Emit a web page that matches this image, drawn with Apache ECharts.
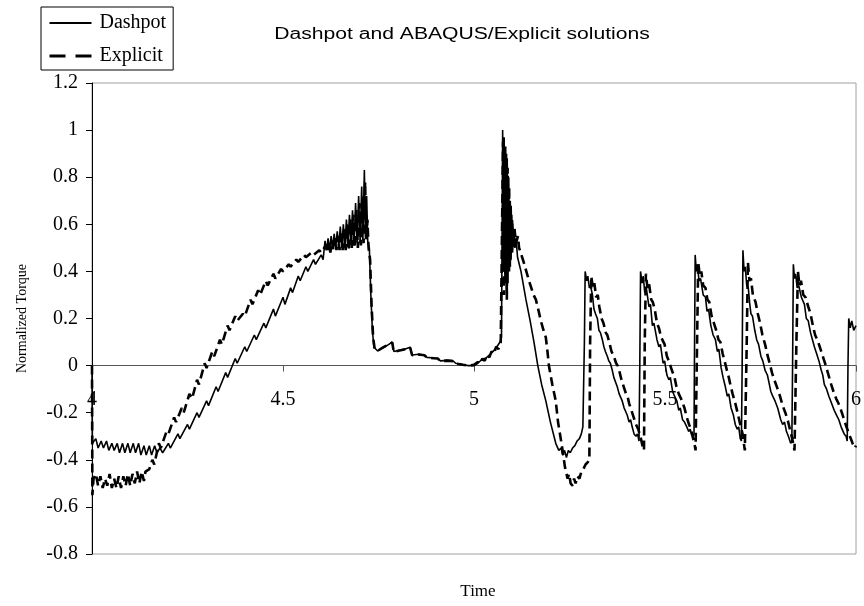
<!DOCTYPE html>
<html>
<head>
<meta charset="utf-8">
<script src="https://cdn.jsdelivr.net/npm/echarts@6/dist/echarts.min.js"></script>
<style>html,body{margin:0;padding:0;background:#fff}#c{width:864px;height:606px}</style>
</head>
<body>
<div id="c"></div>
<script>
// ---- data (time, normalized torque) ----
var seriesNames = ['Dashpot', 'Explicit'];
var xTicks = [4, 4.5, 5, 5.5, 6];
var yTicks = [-0.8, -0.6, -0.4, -0.2, 0, 0.2, 0.4, 0.6, 0.8, 1, 1.2];

var dashpotRamp = [
 [4.000,0.00],[4.001,-0.33],[4.002,-0.33],[4.010,-0.31],[4.016,-0.35],[4.024,-0.32],[4.030,-0.35],[4.038,-0.32],
 [4.044,-0.36],[4.052,-0.33],[4.058,-0.36],[4.066,-0.33],[4.072,-0.37],[4.080,-0.33],[4.086,-0.37],[4.094,-0.33],
 [4.100,-0.37],[4.108,-0.33],[4.114,-0.37],[4.122,-0.33],[4.128,-0.38],[4.136,-0.34],[4.142,-0.38],[4.150,-0.34],
 [4.156,-0.38],[4.164,-0.34],[4.170,-0.37],[4.178,-0.35],[4.185,-0.37],[4.200,-0.33],[4.205,-0.35],[4.225,-0.29],
 [4.230,-0.31],[4.250,-0.25],[4.255,-0.27],[4.275,-0.20],[4.280,-0.22],[4.300,-0.15],[4.305,-0.17],[4.325,-0.09],
 [4.330,-0.11],[4.350,-0.03],[4.355,-0.05],[4.375,0.03],[4.380,0.01],[4.400,0.08],[4.405,0.06],[4.425,0.13],
 [4.430,0.11],[4.450,0.18],[4.455,0.16],[4.475,0.24],[4.480,0.21],[4.500,0.29],[4.505,0.26],[4.520,0.33],
 [4.525,0.31],[4.540,0.38],[4.545,0.36],[4.560,0.42],[4.565,0.40],[4.580,0.45],[4.585,0.43],[4.600,0.47],[4.605,0.45]
];
var dashpotPeak = [
 [4.610,0.53],[4.614,0.49],[4.618,0.54],[4.622,0.49],[4.626,0.55],[4.630,0.50],[4.634,0.56],[4.638,0.50],
 [4.642,0.57],[4.646,0.50],[4.650,0.59],[4.654,0.50],[4.658,0.60],[4.662,0.50],[4.666,0.62],[4.670,0.51],
 [4.674,0.64],[4.678,0.51],[4.682,0.66],[4.686,0.51],[4.690,0.69],[4.694,0.52],[4.698,0.72],[4.702,0.52],
 [4.706,0.76],[4.709,0.53],[4.713,0.83],[4.716,0.54],[4.719,0.72],[4.722,0.52],[4.726,0.50],[4.730,0.30],
 [4.734,0.15],[4.738,0.078]
];
var dashpotRest = [
 [4.748,0.062],[4.760,0.075],[4.772,0.085],[4.786,0.10],[4.790,0.06],[4.805,0.065],[4.820,0.07],[4.833,0.078],
 [4.838,0.045],[4.855,0.048],[4.870,0.045],[4.877,0.035],[4.895,0.032],[4.905,0.03],[4.912,0.02],[4.930,0.022],
 [4.945,0.02],[4.952,0.01],[4.970,0.005],[4.985,0.0],[5.000,0.0],[5.010,0.01],[5.020,0.025],[5.030,0.03],
 [5.040,0.045],[5.050,0.06],[5.060,0.08],[5.068,0.10],[5.072,0.12]
];
var dashpotSpike = [
 [5.075,1.00],[5.077,0.40],[5.079,0.97],[5.081,0.35],[5.083,0.93],[5.085,0.30],[5.087,0.88],[5.089,0.35],
 [5.091,0.80],[5.093,0.40],[5.095,0.70],[5.097,0.45],[5.099,0.64],[5.101,0.48],[5.104,0.58],[5.107,0.50],
 [5.110,0.54],[5.114,0.46],[5.123,0.40],[5.136,0.28],[5.147,0.19],[5.157,0.10],[5.167,0.00],[5.177,-0.08],
 [5.188,-0.15],[5.200,-0.24],[5.214,-0.33],[5.222,-0.36],[5.228,-0.35],[5.232,-0.38],[5.237,-0.36],[5.242,-0.39],
 [5.247,-0.36],[5.252,-0.37],[5.258,-0.35],[5.264,-0.34],[5.270,-0.32],[5.276,-0.31],[5.281,-0.29],[5.285,-0.26]
];
var dashpotCycles = [
 [5.289,0.10],[5.291,0.40],[5.295,0.36],[5.298,0.38],[5.302,0.33],[5.305,0.34],[5.310,0.30],[5.314,0.24],
 [5.318,0.22],[5.323,0.20],[5.327,0.15],[5.331,0.14],[5.336,0.11],[5.340,0.08],[5.344,0.06],[5.349,0.04],
 [5.353,0.02],[5.357,0.01],[5.362,-0.02],[5.366,-0.05],[5.370,-0.05],[5.375,-0.09],[5.380,-0.12],[5.384,-0.12],
 [5.388,-0.15],[5.393,-0.18],[5.397,-0.18],[5.401,-0.21],[5.406,-0.24],[5.410,-0.23],[5.414,-0.26],[5.419,-0.29],
 [5.424,-0.30],[5.428,-0.29],[5.432,-0.32],
 [5.434,0.00],[5.436,0.40],[5.440,0.35],[5.443,0.38],[5.447,0.31],[5.451,0.33],[5.458,0.25],[5.462,0.26],
 [5.467,0.17],[5.471,0.18],[5.479,0.11],[5.484,0.08],[5.488,0.09],[5.495,0.01],[5.499,0.02],[5.505,-0.04],
 [5.510,-0.06],[5.514,-0.05],[5.520,-0.11],[5.525,-0.13],[5.531,-0.15],[5.536,-0.19],[5.540,-0.18],[5.546,-0.23],
 [5.551,-0.24],[5.557,-0.26],[5.562,-0.28],[5.566,-0.27],[5.569,-0.29],[5.574,-0.30],[5.576,-0.29],
 [5.577,0.00],[5.579,0.47],[5.582,0.40],[5.585,0.43],[5.589,0.36],[5.593,0.37],[5.600,0.30],[5.606,0.29],
 [5.610,0.23],[5.614,0.24],[5.620,0.17],[5.626,0.13],[5.632,0.11],[5.637,0.06],[5.641,0.07],[5.647,-0.01],
 [5.652,-0.05],[5.658,-0.09],[5.663,-0.13],[5.667,-0.12],[5.673,-0.18],[5.679,-0.21],[5.684,-0.25],[5.689,-0.27],
 [5.693,-0.26],[5.697,-0.31],[5.700,-0.32],
 [5.702,0.00],[5.704,0.49],[5.707,0.40],[5.710,0.42],[5.714,0.34],[5.718,0.33],[5.722,0.26],[5.725,0.22],
 [5.729,0.21],[5.735,0.15],[5.740,0.11],[5.745,0.09],[5.751,0.04],[5.756,0.02],[5.762,-0.02],[5.768,-0.04],
 [5.772,-0.07],[5.777,-0.11],[5.782,-0.13],[5.788,-0.15],[5.795,-0.18],[5.803,-0.23],[5.808,-0.25],[5.813,-0.24],
 [5.818,-0.28],[5.823,-0.30],[5.829,-0.33],[5.832,-0.32],
 [5.834,0.00],[5.836,0.43],[5.839,0.37],[5.842,0.39],[5.846,0.33],[5.850,0.34],[5.857,0.29],[5.865,0.26],
 [5.870,0.20],[5.875,0.19],[5.881,0.14],[5.886,0.11],[5.891,0.08],[5.897,0.05],[5.903,0.02],[5.909,-0.02],
 [5.913,-0.04],[5.917,-0.08],[5.923,-0.10],[5.929,-0.13],[5.936,-0.16],[5.943,-0.19],[5.949,-0.21],[5.955,-0.23],
 [5.961,-0.26],[5.969,-0.29],[5.974,-0.30],[5.977,-0.32],
 [5.979,0.00],[5.981,0.20],[5.985,0.16],[5.989,0.19],[5.994,0.15],[6.000,0.17]
];

var explicitRamp = [
 [4.000,0.00],[4.001,-0.55],[4.004,-0.48],[4.010,-0.46],[4.016,-0.51],[4.022,-0.47],[4.028,-0.52],[4.034,-0.48],
 [4.040,-0.51],[4.046,-0.46],[4.052,-0.52],[4.058,-0.48],[4.064,-0.52],[4.070,-0.47],[4.076,-0.52],[4.082,-0.47],
 [4.088,-0.51],[4.094,-0.46],[4.100,-0.51],[4.106,-0.46],[4.112,-0.50],[4.118,-0.45],[4.124,-0.50],[4.130,-0.45],
 [4.136,-0.49],[4.140,-0.45],[4.150,-0.44],[4.158,-0.40],[4.163,-0.42],[4.175,-0.33],[4.180,-0.35],[4.195,-0.28],
 [4.200,-0.29],[4.215,-0.22],[4.220,-0.24],[4.235,-0.18],[4.240,-0.20],[4.255,-0.12],[4.262,-0.14],[4.275,-0.06],
 [4.280,-0.08],[4.295,0.01],[4.300,-0.01],[4.315,0.06],[4.320,0.04],[4.335,0.11],[4.340,0.09],[4.355,0.17],
 [4.360,0.15],[4.375,0.21],[4.380,0.19],[4.395,0.22],[4.400,0.21],[4.415,0.28],[4.420,0.26],[4.435,0.32],
 [4.440,0.30],[4.455,0.36],[4.460,0.34],[4.475,0.39],[4.480,0.37],[4.495,0.41],[4.500,0.40],[4.515,0.43],
 [4.520,0.42],[4.535,0.45],[4.540,0.44],[4.555,0.47],[4.560,0.46],[4.575,0.48],[4.580,0.47],[4.595,0.49],[4.600,0.48]
];
var explicitPeak = [
 [4.612,0.51],[4.616,0.48],[4.620,0.52],[4.624,0.48],[4.628,0.53],[4.632,0.49],[4.636,0.54],[4.640,0.49],
 [4.644,0.55],[4.648,0.49],[4.652,0.57],[4.656,0.49],[4.660,0.58],[4.664,0.49],[4.668,0.60],[4.672,0.49],
 [4.676,0.62],[4.680,0.50],[4.684,0.64],[4.688,0.50],[4.692,0.66],[4.696,0.50],[4.700,0.69],[4.704,0.51],
 [4.708,0.72],[4.711,0.52],[4.715,0.78],[4.718,0.53],[4.721,0.62],[4.724,0.50],[4.728,0.45],[4.732,0.25],
 [4.736,0.12],[4.740,0.07]
];
var explicitRest = [
 [4.748,0.063],[4.760,0.075],[4.772,0.086],[4.786,0.098],[4.790,0.058],[4.805,0.064],[4.820,0.07],[4.833,0.076],
 [4.838,0.044],[4.855,0.047],[4.870,0.044],[4.877,0.034],[4.895,0.031],[4.905,0.03],[4.912,0.019],[4.930,0.021],
 [4.945,0.019],[4.952,0.009],[4.970,0.004],[4.985,0.0],[5.000,0.003],[5.010,0.015],[5.016,0.008],[5.022,0.03],
 [5.028,0.02],[5.034,0.045],[5.040,0.035],[5.046,0.06],[5.052,0.05],[5.058,0.08],[5.064,0.07],[5.070,0.10],[5.073,0.10]
];
var explicitSpike = [
 [5.076,0.95],[5.078,0.30],[5.080,0.92],[5.082,0.35],[5.084,0.90],[5.086,0.28],[5.088,0.84],[5.090,0.40],
 [5.092,0.76],[5.094,0.42],[5.096,0.68],[5.098,0.48],[5.100,0.62],[5.103,0.50],[5.106,0.58],[5.110,0.52],
 [5.115,0.55],[5.118,0.50],[5.124,0.47],[5.130,0.44],[5.137,0.40],[5.144,0.36],[5.150,0.33],[5.156,0.30],
 [5.162,0.28],[5.168,0.24],[5.175,0.19],[5.182,0.15],[5.188,0.12],[5.193,0.05],[5.196,0.00],[5.205,-0.08],
 [5.214,-0.15],[5.220,-0.24],[5.226,-0.30],[5.232,-0.36],[5.238,-0.43],[5.245,-0.48],[5.249,-0.46],[5.253,-0.50],
 [5.258,-0.51],[5.262,-0.48],[5.266,-0.50],[5.271,-0.47],[5.276,-0.48],[5.281,-0.45],[5.286,-0.44],[5.292,-0.42],
 [5.298,-0.41],[5.302,-0.40]
];
var explicitCycles = [
 [5.304,0.10],[5.307,0.38],[5.311,0.33],[5.315,0.35],[5.320,0.29],[5.324,0.30],[5.328,0.25],[5.334,0.20],
 [5.339,0.18],[5.345,0.14],[5.349,0.13],[5.354,0.10],[5.360,0.06],[5.366,0.04],[5.372,0.01],[5.376,0.00],
 [5.380,-0.02],[5.386,-0.06],[5.392,-0.09],[5.398,-0.12],[5.402,-0.13],[5.406,-0.16],[5.412,-0.19],[5.418,-0.22],
 [5.424,-0.25],[5.430,-0.27],[5.437,-0.31],[5.441,-0.34],[5.445,-0.36],
 [5.447,0.10],[5.450,0.39],[5.454,0.33],[5.458,0.35],[5.464,0.28],[5.468,0.27],[5.473,0.24],[5.479,0.18],
 [5.484,0.16],[5.490,0.12],[5.499,0.09],[5.505,0.04],[5.510,0.02],[5.518,-0.02],[5.525,-0.05],[5.530,-0.09],
 [5.536,-0.12],[5.542,-0.14],[5.551,-0.18],[5.557,-0.22],[5.563,-0.25],[5.568,-0.27],[5.572,-0.30],[5.577,-0.33],
 [5.580,-0.36],[5.582,-0.36],
 [5.584,0.10],[5.587,0.44],[5.591,0.38],[5.595,0.40],[5.600,0.34],[5.606,0.33],[5.611,0.28],[5.616,0.27],
 [5.622,0.21],[5.628,0.18],[5.634,0.15],[5.640,0.11],[5.645,0.10],[5.651,0.05],[5.656,0.02],[5.662,-0.02],
 [5.667,-0.05],[5.671,-0.08],[5.677,-0.12],[5.684,-0.16],[5.690,-0.20],[5.697,-0.25],[5.703,-0.29],[5.709,-0.36],
 [5.712,-0.36],
 [5.714,0.10],[5.717,0.44],[5.721,0.36],[5.725,0.37],[5.730,0.30],[5.737,0.27],[5.743,0.22],[5.749,0.18],
 [5.755,0.13],[5.762,0.09],[5.769,0.04],[5.774,0.01],[5.780,-0.03],[5.786,-0.06],[5.795,-0.10],[5.801,-0.13],
 [5.808,-0.17],[5.815,-0.20],[5.821,-0.23],[5.827,-0.27],[5.833,-0.31],[5.839,-0.36],[5.842,-0.36],
 [5.844,0.10],[5.848,0.40],[5.852,0.34],[5.856,0.36],[5.862,0.30],[5.868,0.29],[5.875,0.25],[5.881,0.22],
 [5.887,0.17],[5.893,0.13],[5.901,0.10],[5.909,0.06],[5.915,0.03],[5.921,0.00],[5.928,-0.04],[5.935,-0.08],
 [5.941,-0.11],[5.948,-0.14],[5.954,-0.16],[5.961,-0.19],[5.967,-0.22],[5.975,-0.26],[5.984,-0.30],[5.991,-0.33],
 [5.997,-0.35],[6.000,-0.34]
];

var dashpotData = [].concat(dashpotRamp, dashpotPeak, dashpotRest, dashpotSpike, dashpotCycles);
var explicitData = [].concat(explicitRamp, explicitPeak, explicitRest, explicitSpike, explicitCycles);

var serif = 'Liberation Serif, Times New Roman, serif';
var gridTop = 83, gridBottom = 52, chartH = 606;
var plotH = chartH - gridTop - gridBottom;
var yMin = yTicks[0], yMax = yTicks[yTicks.length - 1];
// move the x axis (line, ticks, labels) up so it sits on y = 0, as in the reference
var xAxisOffset = -plotH * (0 - yMin) / (yMax - yMin);

var chart = echarts.init(document.getElementById('c'), null, {renderer: 'canvas'});
chart.setOption({
  animation: false,
  backgroundColor: '#fff',
  grid: {left: 92, right: 1, top: gridTop, bottom: gridBottom, show: true, borderColor: '#a0a0a0', borderWidth: 1, containLabel: false},
  legend: {
    orient: 'vertical', left: 41, top: 7,
    borderColor: '#000', borderWidth: 1, padding: [6, 7, 4, 7],
    itemWidth: 42, itemHeight: 14, itemGap: 13, selectedMode: false,
    itemStyle: {color: 'rgba(0,0,0,0)', borderColor: 'rgba(0,0,0,0)', borderWidth: 0},
    textStyle: {fontFamily: serif, fontSize: 20, color: '#000', padding: [0, 0, 0, 3]},
    data: [
      {name: seriesNames[0], lineStyle: {width: 2}},
      {name: seriesNames[1], lineStyle: {type: [16, 10], width: 3}}
    ]
  },
  graphic: [
    {type: 'text', x: 462, y: 35, scaleX: 1.32, z: 10,
     style: {text: 'Dashpot and ABAQUS/Explicit solutions', fontFamily: 'Liberation Sans, Arial, sans-serif', fontSize: 16, fill: '#000', textAlign: 'center', textVerticalAlign: 'middle'}},
    {type: 'text', x: 478, y: 592, z: 10,
     style: {text: 'Time', fontFamily: serif, fontSize: 17, fill: '#000', textAlign: 'center', textVerticalAlign: 'middle'}}
  ],
  xAxis: {
    type: 'value', min: xTicks[0], max: xTicks[xTicks.length - 1], interval: 0.5,
    position: 'bottom', offset: xAxisOffset,
    axisLine: {onZero: false, lineStyle: {color: '#555', width: 1}},
    axisTick: {show: true, length: 6, lineStyle: {color: '#555'}},
    axisLabel: {margin: 24, fontFamily: serif, fontSize: 20, color: '#000', showMinLabel: true, showMaxLabel: true},
    splitLine: {show: false}
  },
  yAxis: {
    type: 'value', min: yMin, max: yMax, interval: 0.2,
    name: 'Normalized Torque', nameLocation: 'middle', nameRotate: 90, nameGap: 63,
    nameTextStyle: {fontFamily: serif, fontSize: 14, color: '#000'},
    axisLine: {show: true, onZero: false, lineStyle: {color: '#000', width: 1}},
    axisTick: {show: true, length: 6, lineStyle: {color: '#000'}},
    axisLabel: {margin: 14, fontFamily: serif, fontSize: 20, color: '#000',
      formatter: function (v) { return String(Math.round(v * 10) / 10); }},
    splitLine: {show: false}
  },
  series: [
    {name: seriesNames[0], type: 'line', data: dashpotData, symbol: 'none', showSymbol: false,
     lineStyle: {color: '#000', width: 1.6, type: 'solid'}, itemStyle: {color: '#000'}, z: 3},
    {name: seriesNames[1], type: 'line', data: explicitData, symbol: 'none', showSymbol: false,
     lineStyle: {color: '#000', width: 2.6, type: [9, 5]}, itemStyle: {color: '#000'}, z: 4}
  ]
});
</script>
</body>
</html>
